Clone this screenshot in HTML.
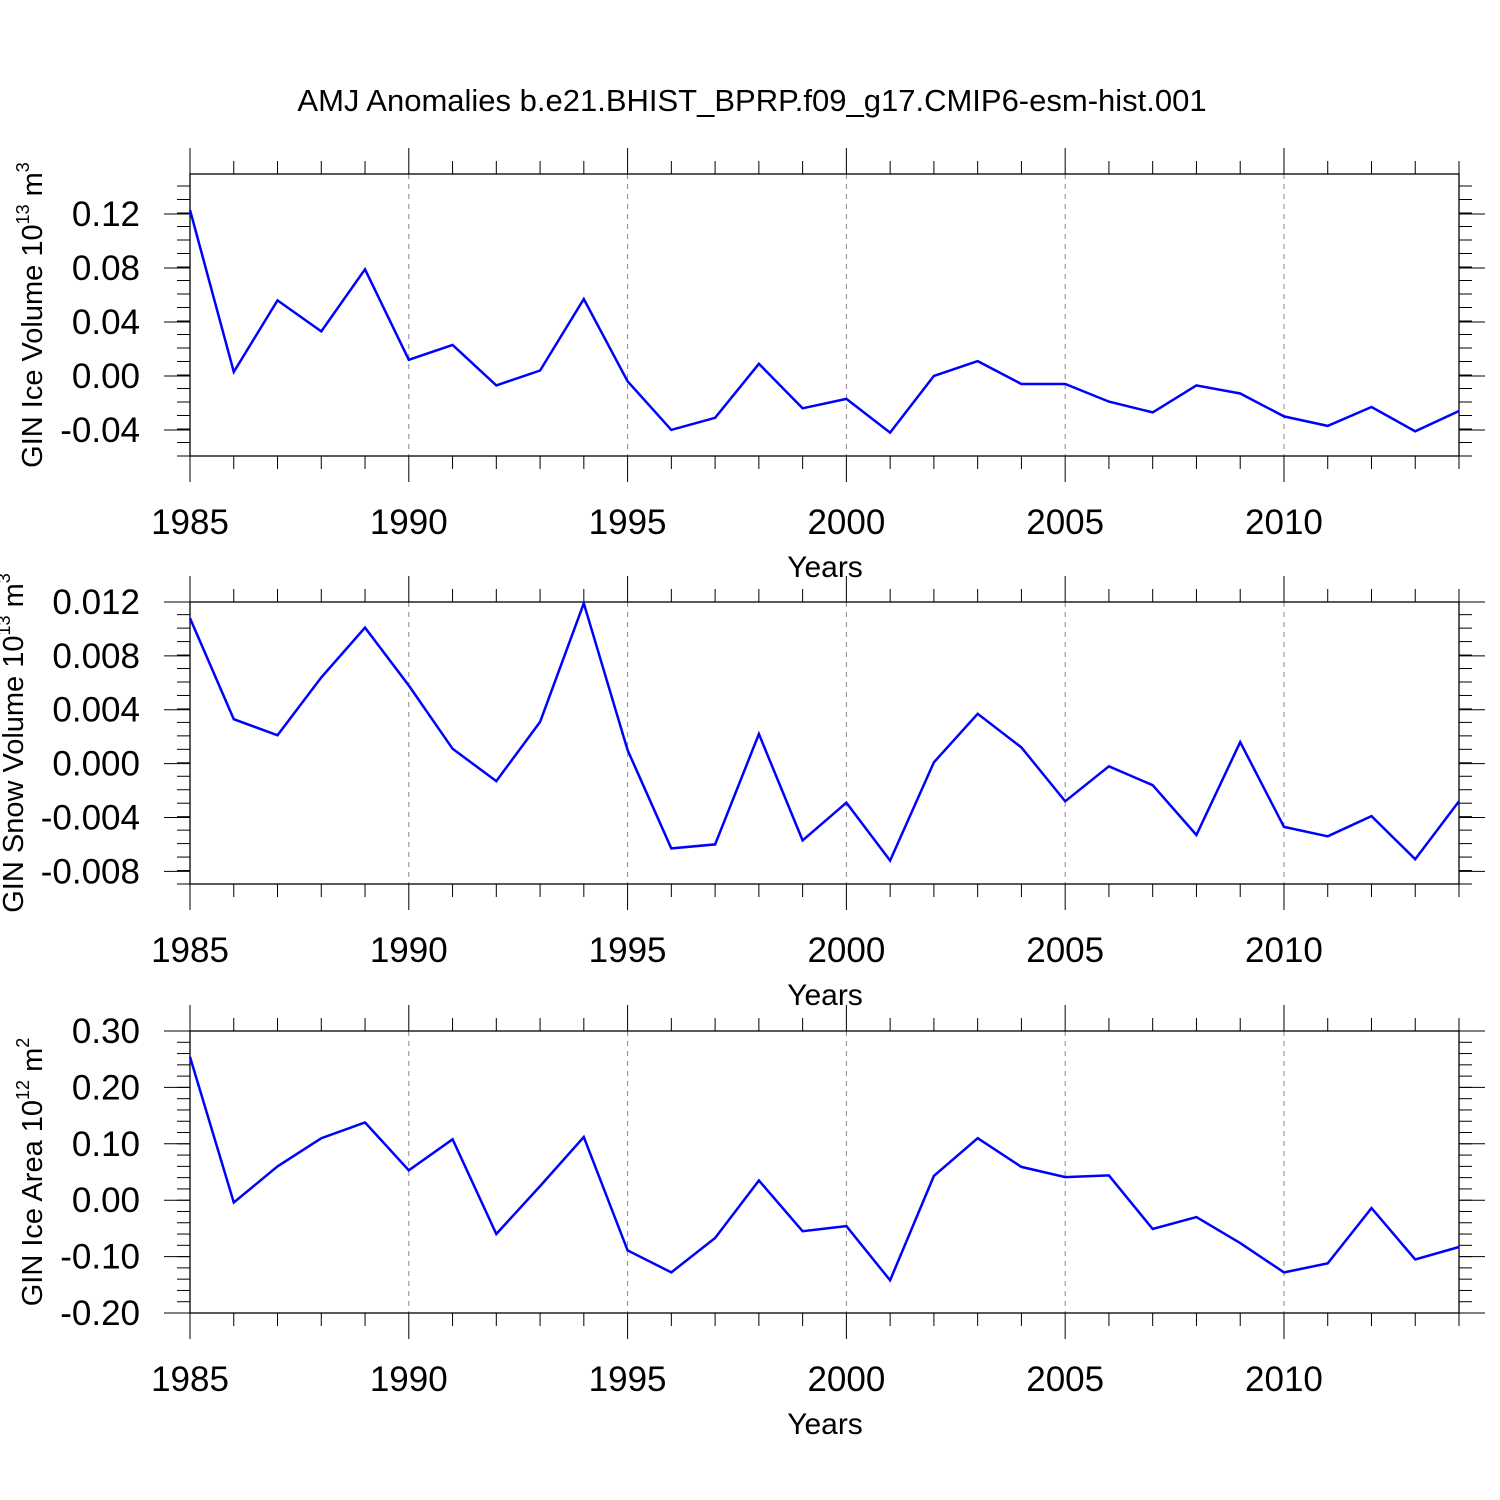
<!DOCTYPE html>
<html><head><meta charset="utf-8"><style>
html,body{margin:0;padding:0;background:#fff}
svg{display:block;font-family:"Liberation Sans",Arial,sans-serif}
</style></head><body>
<svg id="chart" width="1500" height="1500" viewBox="0 0 1500 1500">
<text x="752" y="111" text-anchor="middle" font-size="31">AMJ Anomalies b.e21.BHIST_BPRP.f09_g17.CMIP6-esm-hist.001</text>
</svg>
<script>
const years = [];
for (let y = 1985; y <= 2014; y++) years.push(y);
const xTickLabels = [1985, 1990, 1995, 2000, 2005, 2010];
const iceVolume = [0.123,0.003,0.056,0.033,0.079,0.012,0.023,-0.007,0.004,0.057,-0.004,-0.040,-0.031,0.009,-0.024,-0.017,-0.042,0.000,0.011,-0.006,-0.006,-0.019,-0.027,-0.007,-0.013,-0.030,-0.037,-0.023,-0.041,-0.026];
const snowVolume = [0.0108,0.0033,0.0021,0.0064,0.0101,0.0058,0.0011,-0.0013,0.0031,0.0119,0.0010,-0.0063,-0.0060,0.0022,-0.0057,-0.0029,-0.0072,0.0001,0.0037,0.0012,-0.0028,-0.0002,-0.0016,-0.0053,0.0016,-0.0047,-0.0054,-0.0039,-0.0071,-0.0028];
const iceArea = [0.254,-0.004,0.060,0.110,0.138,0.053,0.108,-0.060,0.025,0.112,-0.089,-0.128,-0.067,0.035,-0.055,-0.046,-0.142,0.043,0.110,0.059,0.041,0.044,-0.051,-0.030,-0.076,-0.128,-0.112,-0.014,-0.105,-0.083];
const iceVolTicks = ["0.12","0.08","0.04","0.00","-0.04"];
const snowVolTicks = ["0.012","0.008","0.004","0.000","-0.004","-0.008"];
const iceAreaTicks = ["0.30","0.20","0.10","0.00","-0.10","-0.20"];

const NS = "http://www.w3.org/2000/svg";
const svg = document.getElementById("chart");
function mk(tag, attrs, parent) {
  const e = document.createElementNS(NS, tag);
  for (const k in attrs) e.setAttribute(k, attrs[k]);
  (parent || svg).appendChild(e);
  return e;
}
const X0 = 190, X1 = 1459;
const xScale = yr => X0 + (yr - 1985) * (X1 - X0) / 29;

function panel(cfg) {
  const g = mk("g", {});
  
  
  const yS = v => cfg.top + (cfg.ymax - v) * (cfg.bot - cfg.top) / (cfg.ymax - cfg.ymin);
  xTickLabels.slice(1).forEach(yr => {
    const l = mk("line", {x1: xScale(yr), x2: xScale(yr), y1: cfg.top, y2: cfg.bot, stroke: "#888", "stroke-width": 1, "stroke-dasharray": "5,5"}, g);
    
    
  });
  years.forEach(yr => {
    const maj = yr % 5 === 0, len = maj ? 26 : 13, x = xScale(yr);
    mk("line", {x1: x, x2: x, y1: cfg.top, y2: cfg.top - len, stroke: "#000", "stroke-width": 1}, g);
    mk("line", {x1: x, x2: x, y1: cfg.bot, y2: cfg.bot + len, stroke: "#000", "stroke-width": 1}, g);
  });
  const n = Math.round((cfg.ymax - cfg.ymin) / cfg.minor);
  for (let i = 0; i <= n + 1; i++) {
    const v = cfg.ymin + i * cfg.minor;
    if (v > cfg.ymax + 1e-9) break;
    const y = yS(v);
    mk("line", {x1: X0, x2: X0 - 13, y1: y, y2: y, stroke: "#000", "stroke-width": 1}, g);
    mk("line", {x1: X1, x2: X1 + 13, y1: y, y2: y, stroke: "#000", "stroke-width": 1}, g);
  }
  cfg.ticks.forEach(t => {
    const y = yS(parseFloat(t));
    mk("line", {x1: X0, x2: X0 - 26, y1: y, y2: y, stroke: "#000", "stroke-width": 1}, g);
    mk("line", {x1: X1, x2: X1 + 26, y1: y, y2: y, stroke: "#000", "stroke-width": 1}, g);
    const tx = mk("text", {x: 140, y: y + 12, "text-anchor": "end", "font-size": 35}, g);
    tx.textContent = t;
    
    
  });
  const fr = mk("rect", {x: X0, y: cfg.top, width: X1 - X0, height: cfg.bot - cfg.top, fill: "none", stroke: "#000", "stroke-width": 1.3}, g);
  
  
  xTickLabels.forEach(yr => {
    const tx = mk("text", {x: xScale(yr), y: cfg.bot + 78, "text-anchor": "middle", "font-size": 35}, g);
    tx.textContent = yr;
    
    
  });
  const xt = mk("text", {x: 825, y: cfg.bot + 121, "text-anchor": "middle", "font-size": 30}, g);
  xt.textContent = "Years";
  
  
  const cy = (cfg.top + cfg.bot) / 2 + cfg.yoff;
  const yt = mk("text", {x: 0, y: 0, transform: `translate(${cfg.tx} ${cy}) rotate(-90)`, "text-anchor": "middle", "font-size": 29}, g);
  yt.innerHTML = cfg.label;
  
  
  const pts = cfg.data.map((v, i) => xScale(years[i]).toFixed(1) + "," + yS(v).toFixed(1)).join(" ");
  const pl = mk("polyline", {points: pts, fill: "none", stroke: "#0000ff", "stroke-width": 2.5, "stroke-linejoin": "miter"}, g);
  
  
}

panel({name: "ice-volume-panel", top: 174, bot: 456, ymin: -0.0593, ymax: 0.1496, minor: 0.01, ticks: iceVolTicks, data: iceVolume, yoff: 0, tx: 42,
  label: 'GIN Ice Volume 10<tspan font-size="18" dy="-13">13</tspan><tspan dy="13"> m</tspan><tspan font-size="18" dy="-13">3</tspan>'});
panel({name: "snow-volume-panel", top: 602, bot: 884, ymin: -0.00894, ymax: 0.012, minor: 0.001, ticks: snowVolTicks, data: snowVolume, yoff: 0, tx: 23,
  label: 'GIN Snow Volume 10<tspan font-size="18" dy="-13">13</tspan><tspan dy="13"> m</tspan><tspan font-size="18" dy="-13">3</tspan>'});
panel({name: "ice-area-panel", top: 1031, bot: 1313, ymin: -0.2, ymax: 0.3, minor: 0.02, ticks: iceAreaTicks, data: iceArea, yoff: 0, tx: 42,
  label: 'GIN Ice Area 10<tspan font-size="18" dy="-13">12</tspan><tspan dy="13"> m</tspan><tspan font-size="18" dy="-13">2</tspan>'});
</script>
</body></html>
